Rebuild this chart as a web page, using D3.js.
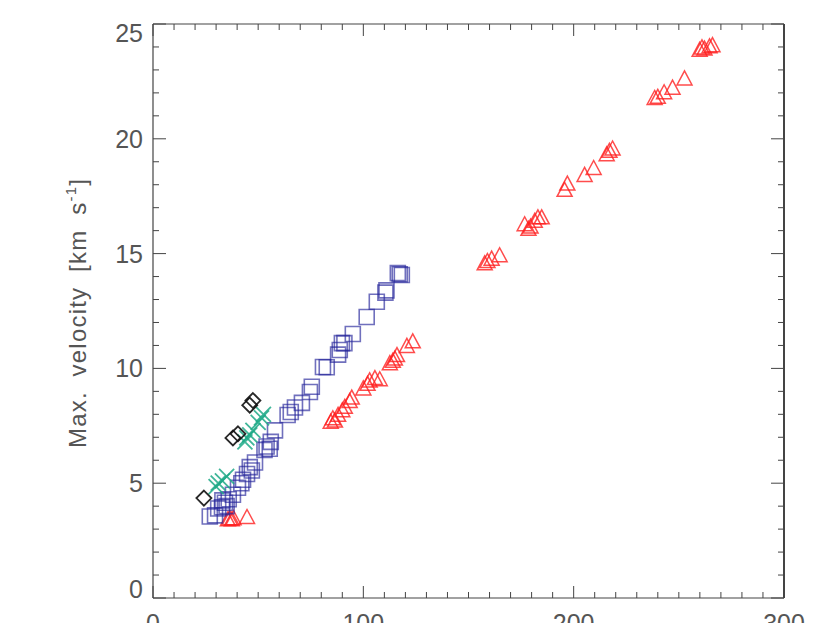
<!DOCTYPE html>
<html>
<head>
<meta charset="utf-8">
<script src="https://cdn.jsdelivr.net/npm/d3@7"></script>
<style>
    body { margin: 0; background: #fff; }
    .tick-label { font-family: "Liberation Sans", Arial, sans-serif; font-size: 25px; fill: #555; }
    .axis-title { font-family: "Liberation Sans", Arial, sans-serif; font-size: 24px; fill: #555; letter-spacing: 1.2px; word-spacing: 7px; }
</style>
</head>
<body>
<div id="the_plot"></div>
<script>
// [distance, max velocity] pairs
var diamonds = [[24.2, 4.35], [38, 6.97], [40.4, 7.15], [46, 8.4], [47.5, 8.6]];

var crosses = [[30, 4.85], [31, 5.0], [33, 5.1], [35, 5.3],
               [43.7, 6.8], [44.6, 6.97], [46, 7.1], [47.5, 7.3],
               [50, 7.65], [51.6, 7.85], [52.5, 8.0]];

var squares = [[27, 3.55], [29.5, 3.6], [31, 3.9], [32.8, 3.95], [34.2, 4.15], [35, 4.0],
               [33, 4.25], [36, 4.3], [38, 4.5], [40.4, 4.8], [42, 5.0], [42.8, 5.15],
               [44.7, 5.4], [46, 5.7], [47, 5.55], [48.5, 5.9], [53, 6.45], [54, 6.6],
               [55.5, 6.5], [56, 6.8], [58, 7.3], [64, 7.97], [65.5, 8.1], [67.5, 8.3],
               [70.8, 8.5], [74.6, 8.97], [75.5, 9.2], [80.8, 10.06], [82.6, 10.05],
               [88, 10.6], [88.8, 10.8], [89.8, 11.1], [91, 11.1], [95, 11.5],
               [101.6, 12.24], [106.4, 12.9], [110.5, 13.3], [111, 13.4],
               [116.4, 14.15], [117.3, 14.1], [118.3, 14.07]];

var triangles = [[35.6, 3.45], [36.5, 3.5], [37.5, 3.45], [38.3, 3.5], [44.7, 3.55],
                 [84.5, 7.7], [85.5, 7.85], [86.5, 7.75], [88, 8.0], [90, 8.2], [91.2, 8.35],
                 [93.5, 8.6], [94.5, 8.75], [100, 9.15], [102, 9.35], [103, 9.5], [105.5, 9.6],
                 [107.8, 9.55], [112.6, 10.25], [114, 10.35], [115, 10.45], [116, 10.6],
                 [120.7, 11.0], [123.5, 11.2],
                 [157.7, 14.6], [159, 14.7], [161, 14.8], [164.8, 14.95],
                 [176.7, 16.3], [178.5, 16.1], [179.5, 16.2], [181.5, 16.45], [183, 16.6], [184.8, 16.6],
                 [195.7, 17.8], [197, 18.07], [205.2, 18.45], [209.5, 18.75],
                 [215.7, 19.35], [217, 19.5], [218.5, 19.6],
                 [238.5, 21.8], [240, 21.85], [243, 22.05], [247, 22.25], [252.7, 22.65],
                 [259.9, 23.9], [261, 24.0], [262.2, 23.95], [264.6, 24.05], [266, 24.1]];

var xTicks = [0, 100, 200, 300];
var yTicks = [0, 5, 10, 15, 20, 25];

var w = 830, h = 623,
    padLeft = 153, padRight = 784, padTop = 24, padBottom = 598;

var svg = d3.select("#the_plot")
    .append("svg")
    .attr("width", w)
    .attr("height", h);

var x = d3.scaleLinear().domain([0, 300]).range([padLeft, padRight]);
var y = d3.scaleLinear().domain([0, 25]).range([padBottom, padTop]);

// ticks: majors long, minors short, on all four sides pointing inward
function drawTicks(){
    var g = svg.append("g").attr("stroke", "#444").attr("stroke-width", 1);
    d3.range(0, 301, 10).forEach(function (v) {
        var len = v % 100 == 0 ? 12 : 6;
        g.append("line").attr("x1", x(v)).attr("x2", x(v)).attr("y1", padBottom).attr("y2", padBottom - len);
        g.append("line").attr("x1", x(v)).attr("x2", x(v)).attr("y1", padTop).attr("y2", padTop + len);
    });
    d3.range(0, 26, 1).forEach(function (v) {
        var len = v % 5 == 0 ? 13 : 6;
        g.append("line").attr("x1", padLeft).attr("x2", padLeft + len).attr("y1", y(v)).attr("y2", y(v));
        g.append("line").attr("x1", padRight).attr("x2", padRight - len).attr("y1", y(v)).attr("y2", y(v));
    });
}

function drawFrame(){
    var g = svg.append("g").attr("stroke", "#444").attr("fill", "none");
    g.append("line").attr("x1", padLeft).attr("x2", padRight).attr("y1", padBottom).attr("y2", padBottom).attr("stroke-width", 1.2);
    g.append("line").attr("x1", padLeft).attr("x2", padRight).attr("y1", padTop).attr("y2", padTop).attr("stroke-width", 1.2);
    g.append("line").attr("x1", padLeft).attr("x2", padLeft).attr("y1", padTop).attr("y2", padBottom).attr("stroke-width", 1.2);
    g.append("line").attr("x1", padRight).attr("x2", padRight).attr("y1", padTop).attr("y2", padBottom).attr("stroke-width", 2);
}

function drawLabels(){
    svg.selectAll(".ylab")
        .data(yTicks)
        .enter()
        .append("text")
        .attr("class", "tick-label")
        .attr("text-anchor", "end")
        .attr("x", padLeft - 10)
        .attr("y", function (d) { return y(d); })
        .attr("dy", function (d) { return d == 25 ? "0.72em" : (d == 0 ? "0em" : "0.36em"); })
        .text(function (d) { return d; });

    // the x labels sit below the window edge, only their tops show
    svg.selectAll(".xlab")
        .data(xTicks)
        .enter()
        .append("text")
        .attr("class", "tick-label")
        .attr("text-anchor", "middle")
        .attr("x", function (d) { return x(d); })
        .attr("y", 632)
        .text(function (d) { return d; });

    var t = svg.append("text")
        .attr("class", "axis-title")
        .attr("text-anchor", "middle")
        .attr("transform", "translate(86," + 313 + ") rotate(-90)");
    t.append("tspan").text("Max. velocity [km s");
    t.append("tspan").attr("font-size", "15px").attr("dy", "-10").text("-1");
    t.append("tspan").attr("dy", "10").text("]");
}

// marker outlines, all about 15 px across
var shapes = {
    square: "M-7.5,-7.5H7.5V7.5H-7.5Z",
    triangle: "M0,-7L7.5,7H-7.5Z",
    diamond: "M0,-7.5L7.5,0L0,7.5L-7.5,0Z",
    cross: "M-7.5,-7.5L7.5,7.5M7.5,-7.5L-7.5,7.5"
};

function drawPoints(data, shape, color, width, opacity){
    svg.append("g")
        .selectAll("path")
        .data(data)
        .enter()
        .append("path")
        .attr("d", shapes[shape])
        .attr("transform", function (d) { return "translate(" + x(d[0]) + "," + y(d[1]) + ")"; })
        .attr("fill", "none")
        .attr("stroke", color)
        .attr("stroke-width", width)
        .attr("stroke-opacity", opacity);
}

drawTicks();
drawFrame();
drawLabels();
drawPoints(triangles, "triangle", "#ff1f1f", 1.5, 0.8);
drawPoints(squares, "square", "#23239a", 1.6, 0.65);
drawPoints(crosses, "cross", "#1ea987", 1.8, 0.85);
drawPoints(diamonds, "diamond", "#111", 1.8, 0.9);
</script>
</body>
</html>
